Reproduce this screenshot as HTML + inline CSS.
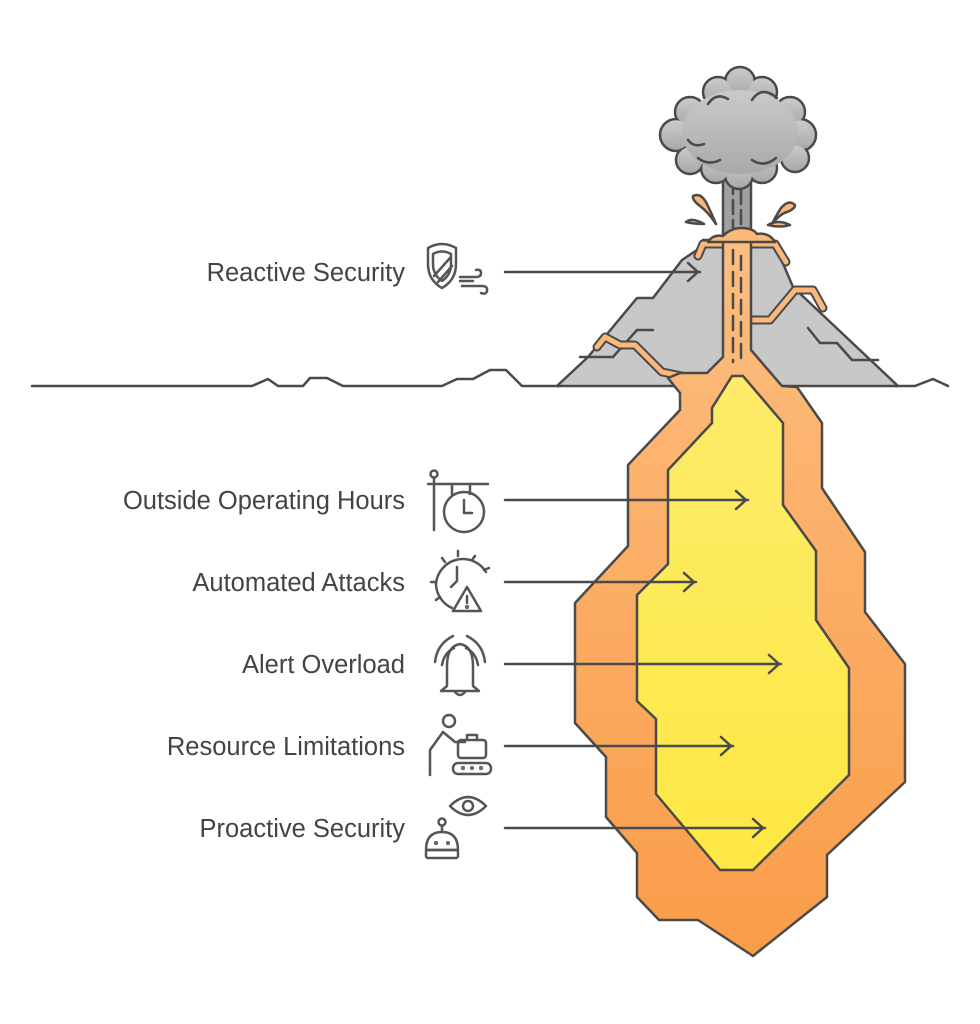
<!DOCTYPE html>
<html><head><meta charset="utf-8"><style>
html,body{margin:0;padding:0;background:#fff;}
svg{display:block;}
text{font-family:"Liberation Sans",sans-serif;font-size:25.5px;fill:#444;}
</style></head><body>
<svg width="980" height="1024" viewBox="0 0 980 1024" xmlns="http://www.w3.org/2000/svg">
<defs>
<linearGradient id="og" x1="0" y1="0" x2="0" y2="1"><stop offset="0" stop-color="#fdbe80"/><stop offset="1" stop-color="#f99c48"/></linearGradient>
<linearGradient id="yg" x1="0" y1="0" x2="0" y2="1"><stop offset="0" stop-color="#fdeb6a"/><stop offset="1" stop-color="#fde843"/></linearGradient>
<linearGradient id="cg" x1="0" y1="0" x2="0" y2="1"><stop offset="0" stop-color="#cacaca"/><stop offset="1" stop-color="#a9a9a9"/></linearGradient>
</defs>
<g stroke="#4a4a4a" stroke-width="2.5" stroke-linejoin="round" stroke-linecap="round">
<polyline fill="none" points="32,386 252,386 268,379 278,386 303,386 310,378 327,378 343,386 442,386 457,379 473,379 490,370 506,370 522,386 560,386"/>
<polyline fill="none" points="895,386 915,386 933,379 948,386"/>
<polygon fill="#c8c8c8" points="557,386 588,357 637,298 653,298 682,260 697,250 703,240 773,240 793,287 898,386"/>
<polyline fill="none" points="613,357 637,330 653,330"/>
<polyline fill="none" points="580,357 613,357"/>
<polyline fill="none" points="808,328 820,343 837,343 852,360 878,360"/>
<rect x="723" y="170" width="28" height="75" fill="#a0a0a0"/>
<line x1="733" y1="180" x2="733" y2="232" stroke-dasharray="14 6"/>
<line x1="741" y1="190" x2="741" y2="232" stroke-dasharray="14 6"/>
<g fill="url(#cg)">
<circle cx="740" cy="82" r="15"/><circle cx="718" cy="92" r="15"/><circle cx="762" cy="92" r="15"/><circle cx="790" cy="112" r="15"/><circle cx="800" cy="135" r="16"/><circle cx="690" cy="112" r="15"/><circle cx="676" cy="135" r="16"/><circle cx="690" cy="160" r="14"/><circle cx="795" cy="158" r="14"/><circle cx="716" cy="168" r="15"/><circle cx="762" cy="168" r="15"/><circle cx="739" cy="175" r="14"/>
</g>
<g fill="url(#cg)" stroke="none">
<circle cx="740" cy="82" r="13.5"/><circle cx="718" cy="92" r="13.5"/><circle cx="762" cy="92" r="13.5"/><circle cx="790" cy="112" r="13.5"/><circle cx="800" cy="135" r="14.5"/><circle cx="690" cy="112" r="13.5"/><circle cx="676" cy="135" r="14.5"/><circle cx="690" cy="160" r="12.5"/><circle cx="795" cy="158" r="12.5"/><circle cx="716" cy="168" r="13.5"/><circle cx="762" cy="168" r="13.5"/><circle cx="739" cy="175" r="12.5"/>
<ellipse cx="740" cy="132" rx="58" ry="42"/>
</g>
<path fill="none" d="M708,104 q8,-12 20,-5 M752,100 q10,-15 25,-2 M698,158 q10,8 22,2 M752,160 q12,8 24,-2 M688,140 q6,8 16,4"/>
<g fill="#fbb878">
<path d="M693,196 q8,-4 14,8 q4,8 9,20 q-8,-12 -16,-18 q-8,-6 -7,-10z"/>
<path d="M686,222 q6,-5 18,2 q-10,0 -18,-2z"/>
<path d="M795,205 q-6,-6 -14,3 q-4,6 -9,16 q8,-10 15,-12 q8,-3 8,-7z"/>
<path d="M768,225 q10,-6 22,0 q-10,3 -22,0z"/>
</g>
<polyline fill="none" stroke-width="9" points="597,347 605,337 620,345 635,345 662,372 682,376"/>
<polyline fill="none" stroke="#fbb878" stroke-width="5" points="597,347 605,337 620,345 635,345 662,372 682,376"/>
<polyline fill="none" stroke-width="9" points="751,320 770,320 795,290 813,290 823,308"/>
<polyline fill="none" stroke="#fbb878" stroke-width="5" points="751,320 770,320 795,290 813,290 823,308"/>
<polyline fill="none" stroke-width="9" points="698,256 703,244 723,244"/>
<polyline fill="none" stroke="#fbb878" stroke-width="5" points="698,256 703,244 723,244"/>
<polyline fill="none" stroke-width="9" points="751,244 775,244 786,262"/>
<polyline fill="none" stroke="#fbb878" stroke-width="5" points="751,244 775,244 786,262"/>
<polygon fill="url(#og)" points="723,240 751,240 751,350 782,386 797,387 822,423 822,488 865,552 865,612 905,664 905,782 827,855 827,897 753,956 698,920 659,920 637,897 637,853 606,817 606,757 575,723 575,603 628,546 628,465 680,410 680,393 668,378 680,373 707,373 723,357"/>
<path fill="#fbb878" d="M708,242 q5,-8 15,-6 q8,-8 18,-8 q12,0 16,6 q12,-2 18,8 z"/>
<line x1="733" y1="250" x2="733" y2="362" stroke-dasharray="14 8"/>
<line x1="741" y1="256" x2="741" y2="362" stroke-dasharray="14 8"/>
<polygon fill="url(#yg)" points="732,376 743,376 783,423 783,505 816,551 816,620 849,668 849,775 753,870 720,870 656,794 656,719 637,701 637,595 668,564 668,470 712,423 712,408"/>
<g fill="none">
<path d="M505,272 H700 M688,263 l10,9 -10,9"/>
<path d="M505,500 H748 M736,491 l10,9 -10,9"/>
<path d="M505,582 H696 M684,573 l10,9 -10,9"/>
<path d="M505,664 H781 M769,655 l10,9 -10,9"/>
<path d="M505,746 H733 M721,737 l10,9 -10,9"/>
<path d="M505,828 H765 M753,819 l10,9 -10,9"/>
</g>
<g fill="none" stroke="#555">
<path d="M428,248 q14,-8 28,0 v16 q0,16 -14,24 q-14,-8 -14,-24z"/>
<path d="M433,254 q9,-5 18,0 v10 q0,11 -9,17 q-9,-6 -9,-17z"/>
<line x1="434" y1="276" x2="450" y2="258"/><line x1="438" y1="282" x2="452" y2="266"/>
<path d="M460,277 h16 q5,0 5,-4 q0,-4 -5,-3 M462,286 h20 q6,0 5,5 q-1,4 -6,2 M460,281 h13"/>
<circle cx="434" cy="474" r="3.5"/><line x1="434" y1="478" x2="434" y2="530"/><line x1="428" y1="484" x2="488" y2="484"/>
<line x1="452" y1="484" x2="452" y2="494"/><line x1="470" y1="484" x2="470" y2="494"/>
<circle cx="464" cy="512" r="20"/><path d="M464,500 v13 h8"/>
<path d="M436,584 a27,27 0 0 1 50,-12"/>
<path d="M436,584 a27,27 0 0 0 16,24"/>
<path d="M445,562 l-3,-4 M458,556 v-5 M472,560 l3,-4 M484,570 l5,-2 M436,582 h-5 M440,597 l-4,3"/>
<path d="M457,567 v14 l-6,6"/>
<path d="M467,587 l-14,24 h28z"/><line x1="467" y1="596" x2="467" y2="603"/><circle cx="467" cy="607" r="0.8"/>
<path d="M447,666 q0,-20 13,-22 q13,2 13,22 v20 l6,5 h-38 l6,-5z"/>
<path d="M455,692 q5,6 10,0"/>
<path d="M435,662 q2,-18 18,-26 M442,665 q2,-12 12,-17 M485,662 q-2,-18 -18,-26 M478,665 q-2,-12 -12,-17"/>
<circle cx="449" cy="721" r="6"/>
<path d="M430,775 v-25 l13,-18 12,10 h10"/>
<rect x="458" y="740" width="28" height="18" rx="3"/><path d="M467,740 v-5 h10 v5"/>
<rect x="453" y="763" width="38" height="11" rx="5"/>
<circle cx="463" cy="768" r="0.8"/><circle cx="472" cy="768" r="0.8"/><circle cx="481" cy="768" r="0.8"/>
<path d="M450,806 q18,-18 36,0 q-18,18 -36,0z"/><circle cx="468" cy="806" r="5"/>
<circle cx="442" cy="822" r="3.5"/><line x1="442" y1="826" x2="442" y2="832"/>
<path d="M426,850 q0,-18 16,-18 q16,0 16,18z"/><rect x="426" y="850" width="32" height="8" rx="2"/>
<circle cx="436" cy="843" r="0.8"/><circle cx="448" cy="843" r="0.8"/>
</g>
</g>
<text x="405" y="281" text-anchor="end">Reactive Security</text>
<text x="405" y="509" text-anchor="end">Outside Operating Hours</text>
<text x="405" y="591" text-anchor="end">Automated Attacks</text>
<text x="405" y="673" text-anchor="end">Alert Overload</text>
<text x="405" y="755" text-anchor="end">Resource Limitations</text>
<text x="405" y="837" text-anchor="end">Proactive Security</text>
</svg>
</body></html>
